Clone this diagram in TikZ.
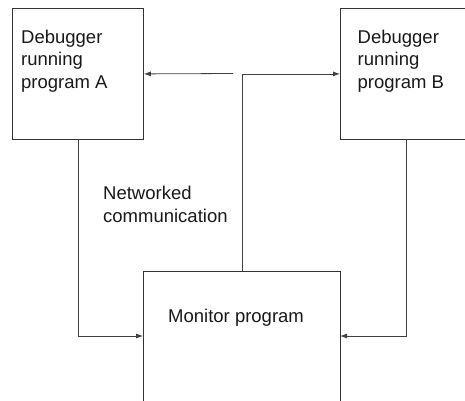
\documentclass[tikz,border=0pt]{standalone}
\usepackage{fontspec}
\setmainfont{Liberation Sans}
\usetikzlibrary{arrows.meta}
\tikzset{
  box/.style={draw=black!80, line width=0.8pt, rectangle, inner sep=0pt, anchor=north west},
  lbl/.style={anchor=base west, align=left, inner sep=0pt, font=\fontsize{18.5}{22.7}\selectfont, text=black!90},
  conn/.style={draw=black!75, line width=0.8pt, -{Latex[length=7pt,width=5pt]}},
}
\begin{document}
\begin{tikzpicture}[x=1pt,y=-1pt]
\useasboundingbox (0,0) rectangle (465,400);
\clip (0,0) rectangle (465,400);
\node[box, minimum width=131pt, minimum height=131pt] (A) at (12,8) {};
\node[box, minimum width=131pt, minimum height=131pt] (B) at (340,8) {};
\node[box, minimum width=197pt, minimum height=160pt] (M) at (143,271) {};
\node[lbl] (ta) at (21,88.6) {Debugger\\running\\program A};
\node[lbl] (tb) at (357.5,88.6) {Debugger\\running\\program B};
\node[lbl] (tn) at (103,222.3) {Networked\\communication};
\node[lbl] (tm) at (168,322.3) {Monitor program};
\coordinate (g) at (233,73.5);
\coordinate (ml) at (143,336);
\coordinate (mr) at (340,336);
\draw[conn] (g) -- (A.east);
\draw[conn] (M.north) |- (B.west);
\draw[conn] (A.south) |- (ml);
\draw[conn] (B.south) |- (mr);
\end{tikzpicture}
\end{document}
